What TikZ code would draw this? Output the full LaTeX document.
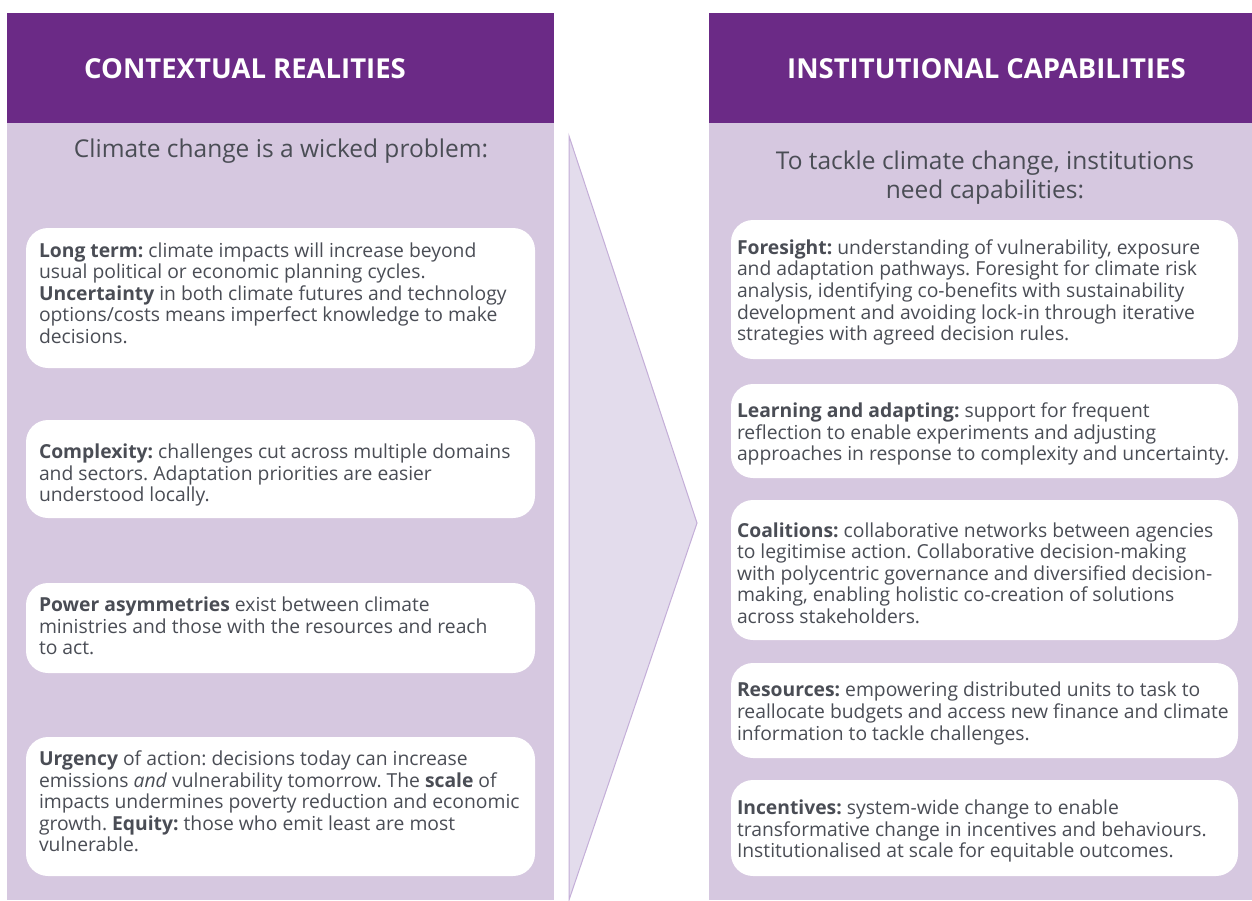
\documentclass[tikz,border=0pt]{standalone}
\usepackage{fontspec}
\setmainfont{Open Sans}
\frenchspacing
\definecolor{hdr}{HTML}{6B2A86}
\definecolor{panel}{HTML}{D6C8E0}
\definecolor{tri}{HTML}{E3DCEC}
\definecolor{triedge}{HTML}{C4AED8}
\definecolor{txt}{HTML}{4A4D55}
\begin{document}
\begin{tikzpicture}[x=1pt,y=-1pt,
  card/.style={fill=white, rounded corners=22pt, draw=none, inner sep=0pt},
  body/.style={font=\fontsize{19.3}{21.6}\selectfont\frenchspacing, text=txt, align=left, inner sep=0pt, anchor=west},
  hdrtext/.style={font=\fontsize{27.5}{32}\selectfont\bfseries, text=white, inner sep=0pt, anchor=west},
  subtext/.style={font=\fontsize{24.5}{29}\selectfont\frenchspacing, text=txt, align=center, inner sep=0pt}]
\useasboundingbox (0,0) rectangle (1252,900);
\fill[white] (0,0) rectangle (1252,900);
% panels
\fill[panel] (7,13) rectangle (554,900);
\fill[hdr] (7,13) rectangle (554,123);
\fill[panel] (709,13) rectangle (1252,900);
\fill[hdr] (709,13) rectangle (1252,123);
% arrow
\draw[triedge, fill=tri, line width=1pt] (569,136) -- (697,523) -- (569,900) -- cycle;
% headers
\node[hdrtext] (h1) at (84,69) {CONTEXTUAL REALITIES};
\node[hdrtext] (h2) at (787,69) {INSTITUTIONAL CAPABILITIES};
\node[subtext] (s1) at (281,151) {Climate change is a wicked problem:};
\node[subtext] (s2) at (985,178) {To tackle climate change, institutions\\need capabilities:};
% left cards
\node[card, minimum width=509pt, minimum height=140pt] (l1) at (280.5,298) {};
\node[card, minimum width=509pt, minimum height=98pt] (l2) at (280.5,469) {};
\node[card, minimum width=509pt, minimum height=90pt] (l3) at (280.5,628) {};
\node[card, minimum width=509pt, minimum height=139pt] (l4) at (280.5,806.5) {};
\node[body] (t1) at ([xshift=13pt,yshift=5pt]l1.west) {\textbf{Long term:} climate impacts will increase beyond\\usual political or economic planning cycles.\\\textbf{Uncertainty} in both climate futures and technology\\options/costs means imperfect knowledge to make\\decisions.};
\node[body] (t2) at ([xshift=13pt,yshift=-6pt]l2.west) {\textbf{Complexity:} challenges cut across multiple domains\\and sectors. Adaptation priorities are easier\\understood locally.};
\node[body] (t3) at ([xshift=13pt,yshift=2pt]l3.west) {\textbf{Power asymmetries} exist between climate\\ministries and those with the resources and reach\\to act.};
\node[body] (t4) at ([xshift=13pt,yshift=5pt]l4.west) {\textbf{Urgency} of action: decisions today can increase\\emissions \textit{and} vulnerability tomorrow. The \textbf{scale} of\\impacts undermines poverty reduction and economic\\growth. \textbf{Equity:} those who emit least are most\\vulnerable.};
% right cards
\node[card, minimum width=507pt, minimum height=139pt] (r1) at (984.5,289.5) {};
\node[card, minimum width=507pt, minimum height=94pt] (r2) at (984.5,431) {};
\node[card, minimum width=507pt, minimum height=140pt] (r3) at (984.5,570) {};
\node[card, minimum width=507pt, minimum height=95pt] (r4) at (984.5,710.5) {};
\node[card, minimum width=507pt, minimum height=96pt] (r5) at (984.5,828) {};
\node[body] (u1) at ([xshift=6pt,yshift=-3pt]r1.west) {\textbf{Foresight:} understanding of vulnerability, exposure\\and adaptation pathways. Foresight for climate risk\\analysis, identifying co-benefits with sustainability\\development and avoiding lock-in through iterative\\strategies with agreed decision rules.};
\node[body] (u2) at ([xshift=6pt,yshift=-3pt]r2.west) {\textbf{Learning and adapting:} support for frequent\\reflection to enable experiments and adjusting\\approaches in response to complexity and uncertainty.};
\node[body] (u3) at ([xshift=6pt,yshift=-3pt]r3.west) {\textbf{Coalitions:} collaborative networks between agencies\\to legitimise action. Collaborative decision-making\\with polycentric governance and diversified decision-\\making, enabling holistic co-creation of solutions\\across stakeholders.};
\node[body] (u4) at ([xshift=6pt,yshift=-3pt]r4.west) {\textbf{Resources:} empowering distributed units to task to\\reallocate budgets and access new finance and climate\\information to tackle challenges.};
\node[body] (u5) at ([xshift=6pt,yshift=-3pt]r5.west) {\textbf{Incentives:} system-wide change to enable\\transformative change in incentives and behaviours.\\Institutionalised at scale for equitable outcomes.};
\end{tikzpicture}
\end{document}
